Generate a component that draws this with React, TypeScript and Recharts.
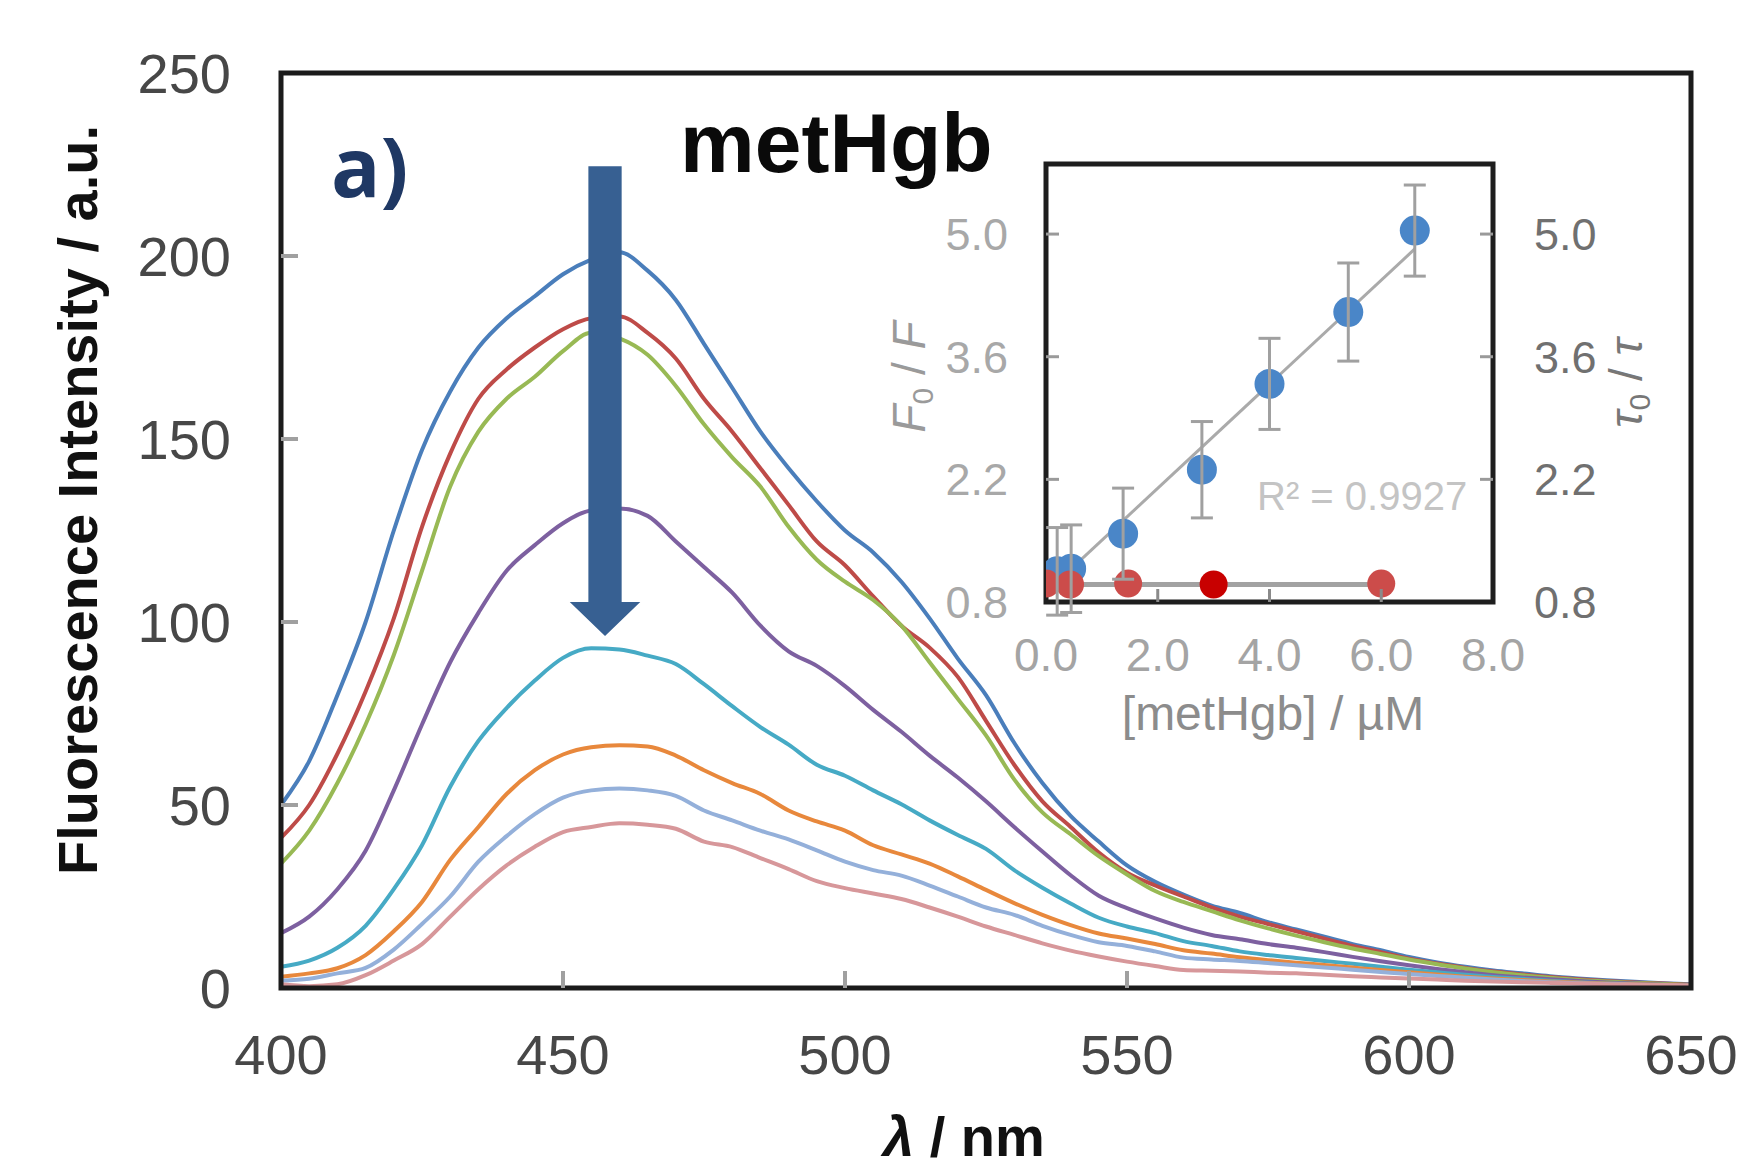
import React from 'react';
import {
  LineChart, Line, XAxis, YAxis, ReferenceArea, ComposedChart, Scatter, ErrorBar, Cell,
} from 'recharts';

// ---------- main spectra ----------
const wavelengths = [400,405,410,415,420,425,430,435,440,445,450,455,460,465,470,475,480,485,490,495,500,505,510,515,520,525,530,535,540,545,550,555,560,565,570,575,580,585,590,595,600,605,610,615,620,625,630,635,640,645,650];
const s1 = [50,62,80,100,125,147,163,175,183,189,195,199,201,196,188,176,164,152,142,133,125,119,111,101,90,80,67,56,47,40,33.5,29,25.5,22.5,20.5,18,16,14,12,10.3,8.5,7,5.8,4.8,4,3.2,2.6,2.1,1.7,1.3,1];
const s2 = [41,50,64,81,101,126,146,161,169,175,180,183,183.5,179,172,161,152,142,132,122,115.5,107,99,93,85,73,61,51,44,37,31.5,28,25,22,19.5,17.5,15.5,13.5,11.5,9.8,8,6.7,5.5,4.5,3.7,3,2.4,1.9,1.5,1.2,0.9];
const s3 = [34,43,56,72,91,114,137,152,161,167,174,179,177.5,173,164.5,154,145,137,126,117,111,106,99,89,79,69,57,48,42,36,31,26.5,23.5,21,18.5,16.3,14.3,12.5,10.8,9.3,7.8,6.5,5.3,4.3,3.5,2.8,2.2,1.8,1.4,1.1,0.8];
const s4 = [15,19.5,27,37.5,54,72,89,102.5,114,121,127,130.5,131,129,122,115,108,99,92,88,82.5,76,70,63.5,57.5,51,44,37.3,30.8,25.2,21.8,19,16.5,14.5,13.3,12,11,9.8,8.5,7.3,6.2,5.2,4.3,3.5,2.9,2.4,1.9,1.5,1.2,0.9,0.7];
const s5 = [5.8,7.5,11,17,27,39,55,67.5,76.5,84,90.2,92.8,92.5,90.8,88.5,83,77,71.3,66.5,61,58,54,50.2,45.8,41.8,38,32.2,27.4,23.1,19.2,16.8,15,12.8,11.5,10,9,8.2,7.4,6.6,5.8,5,4.3,3.6,3,2.5,2,1.6,1.3,1,0.8,0.6];
const s6 = [3.1,4,5.4,9,15.5,23.5,35,44,53,59.5,63.8,65.8,66.3,66,63.5,59.5,56,53,48.5,45.5,43,39,36.5,34,30.5,26.8,23.2,20,17.2,14.9,13.5,12,10.3,9.4,8.4,7.6,6.9,6.3,5.6,4.9,4.3,3.7,3.1,2.6,2.2,1.8,1.5,1.2,1,0.8,0.6];
const s7 = [2,2.5,4,5.5,10.5,17.5,25,34.5,41.5,47.5,52,54,54.5,54,52.5,48.5,45.8,43,40.6,37.6,34.5,32.2,30.7,28,25,22,20,17,14.5,12.5,11.5,10,8.3,7.8,7.4,6.8,6.2,5.6,5,4.4,3.8,3.3,2.8,2.3,1.9,1.6,1.3,1.1,0.9,0.7,0.5];
const s8 = [1,0.5,1,3.5,7.5,12,19.5,27,33.5,38.6,42.6,44,45,44.6,43.5,40,38.5,35.5,32.5,29.2,27.3,25.8,24.3,22,19.5,16.8,14.5,12.2,10.2,8.6,7.2,6,4.9,4.7,4.5,4.2,4,3.6,3.2,2.9,2.6,2.3,2,1.8,1.6,1.4,1.2,1,0.9,0.8,0.7];

const seriesKeys = ['s1','s2','s3','s4','s5','s6','s7','s8'];
const seriesValues = [s1,s2,s3,s4,s5,s6,s7,s8];
const seriesColors = ['#4a7ebb','#be4b48','#98b954','#7d60a0','#46aac5','#e8883c','#94b0da','#d7979a'];

const xTicks = [400,450,500,550,600,650];
const yTicks = [0,50,100,150,200,250];

// arrow annotation extent (data units)
const arrowX = [451.2, 463.7];
const arrowY = [96.2, 224.5];

// ---------- inset ----------
const insetBlueX = [0.2, 0.45, 1.38, 2.79, 4.0, 5.41, 6.6];
const insetBlueY = [1.15, 1.18, 1.58, 2.31, 3.29, 4.11, 5.04];
const insetBlueErr = [0.5, 0.5, 0.52, 0.55, 0.52, 0.56, 0.52];
const insetRedX = [0, 0.43, 1.47, 3.0, 6.0];
const insetRedY = [1.01, 1.0, 1.01, 1.0, 1.01];
const insetRedFill = ['#cc4c4a','#cc4c4a','#cc4c4a','#c80000','#cc4c4a'];
const blueTrendX = [0.2, 6.6];
const blueTrendY = [1.03, 4.83];
const redTrendX = [0, 6.0];
const redTrendY = [1.0, 1.0];
const insetXTicks = [0, 2, 4, 6, 8];
const insetYTicks = [0.8, 2.2, 3.6, 5.0];

const rows = wavelengths.map((nm, i) => {
  const r: any = { nm };
  seriesKeys.forEach((k, j) => { r[k] = seriesValues[j][i]; });
  return r;
});
const blueData = insetBlueX.map((x, i) => ({ x, y: insetBlueY[i], err: insetBlueErr[i] }));
const redData = insetRedX.map((x, i) => ({ x, y: insetRedY[i] }));
const blueTrend = blueTrendX.map((x, i) => ({ x, y: blueTrendY[i] }));
const redTrend = redTrendX.map((x, i) => ({ x, y: redTrendY[i] }));

const FONT = "'Liberation Sans', Arial, sans-serif";

const MainYTick = (props: any) => {
  const { x, y, payload } = props;
  const v = payload.value;
  return (
    <g>
      {v > 0 && v < 250 ? <line x1={x} x2={x + 17} y1={y} y2={y} stroke="#a0a0a0" strokeWidth={4} /> : null}
      <text x={x - 50} y={y + 20} textAnchor="end" fontSize={56} fontFamily={FONT} fill="#474747">{v}</text>
    </g>
  );
};

const MainXTick = (props: any) => {
  const { x, y, payload } = props;
  const v = payload.value;
  return (
    <g>
      {v > 400 && v < 650 ? <line x1={x} x2={x} y1={y} y2={y - 17} stroke="#a0a0a0" strokeWidth={4} /> : null}
      <text x={x} y={y + 86} textAnchor="middle" fontSize={56} fontFamily={FONT} fill="#474747">{v}</text>
    </g>
  );
};

const InsetLeftTick = (props: any) => {
  const { x, y, payload } = props;
  const v = payload.value;
  return (
    <g>
      {v > 0.8 ? <line x1={x} x2={x + 13} y1={y} y2={y} stroke="#9a9a9a" strokeWidth={3} /> : null}
      <text x={x - 38} y={y + 16} textAnchor="end" fontSize={45} fontFamily={FONT} fill="#a8a8a8">{v.toFixed(1)}</text>
    </g>
  );
};

const InsetRightTick = (props: any) => {
  const { x, y, payload } = props;
  const v = payload.value;
  return (
    <g>
      {v > 0.8 ? <line x1={x} x2={x - 13} y1={y} y2={y} stroke="#9a9a9a" strokeWidth={3} /> : null}
      <text x={x + 41} y={y + 16} textAnchor="start" fontSize={45} fontFamily={FONT} fill="#707070">{v.toFixed(1)}</text>
    </g>
  );
};

const InsetXTick = (props: any) => {
  const { x, y, payload } = props;
  const v = payload.value;
  return (
    <g>
      {v > 0 && v < 8 ? <line x1={x} x2={x} y1={y} y2={y - 13} stroke="#8a8a8a" strokeWidth={3} /> : null}
      <text x={x} y={y + 69} textAnchor="middle" fontSize={46} fontFamily={FONT} fill="#a4a4a4">{v.toFixed(1)}</text>
    </g>
  );
};

const ArrowShape = (props: any) => {
  const { x, y, width, height } = props;
  const cx = x + width / 2;
  const sh = width * 0.236;
  const hh = height * 0.072;
  const yb = y + height - hh;
  const pts = [[cx - sh, y], [cx + sh, y], [cx + sh, yb], [x + width, yb], [cx, y + height], [x, yb], [cx - sh, yb]]
    .map((p) => p.join(',')).join(' ');
  return <polygon points={pts} fill="#376092" />;
};

const BlueDot = (props: any) => <circle cx={props.cx} cy={props.cy} r={15} fill="#4a86c8" />;
const RedDot = (props: any) => <circle cx={props.cx} cy={props.cy} r={14} fill={props.fill} />;

export default function App() {
  return (
    <div style={{ position: 'absolute', left: 0, top: 0, width: 1742, height: 1170, background: '#fff', overflow: 'hidden' }}>
      <div style={{ position: 'absolute', left: 0, top: 0 }}>
        <LineChart width={1742} height={1170} data={rows} margin={{ top: 73, right: 51, bottom: 62, left: 0 }}>
          <XAxis type="number" dataKey="nm" domain={[400, 650]} ticks={xTicks} interval={0}
            tickSize={0} tickMargin={0} tickLine={false} axisLine={false} height={120} tick={MainXTick} allowDataOverflow />
          <YAxis type="number" domain={[0, 250]} ticks={yTicks} interval={0} width={281}
            tickSize={0} tickMargin={0} tickLine={false} axisLine={false} tick={MainYTick} allowDataOverflow />
          {seriesKeys.map((k, i) => (
            <Line key={k} type="monotone" dataKey={k} stroke={seriesColors[i]} strokeWidth={4}
              dot={false} isAnimationActive={false} />
          ))}
          <ReferenceArea x1={arrowX[0]} x2={arrowX[1]} y1={arrowY[0]} y2={arrowY[1]}
            shape={ArrowShape} zIndex={1000} />
          <ReferenceArea x1={400} x2={650} y1={0} y2={250} fill="none" stroke="#1b1b1b" strokeWidth={5} zIndex={1100} />
        </LineChart>
      </div>

      <div style={{ position: 'absolute', left: 846, top: 150 }}>
        <ComposedChart width={860} height={600} margin={{ top: 14, right: 0, bottom: 0, left: 0 }}>
          <XAxis type="number" dataKey="x" domain={[0, 8]} ticks={insetXTicks} interval={0}
            tickSize={0} tickMargin={0} tickLine={false} axisLine={false} height={148} tick={InsetXTick} allowDataOverflow />
          <YAxis yAxisId="left" type="number" domain={[0.8, 5.8]} ticks={insetYTicks} interval={0} width={200}
            tickSize={0} tickMargin={0} tickLine={false} axisLine={false} tick={InsetLeftTick} allowDataOverflow />
          <YAxis yAxisId="right" orientation="right" type="number" domain={[0.8, 5.8]} ticks={insetYTicks} interval={0} width={213}
            tickSize={0} tickMargin={0} tickLine={false} axisLine={false} tick={InsetRightTick} allowDataOverflow />
          <ReferenceArea yAxisId="left" x1={0} x2={8} y1={0.8} y2={5.8} fill="#ffffff" fillOpacity={1} stroke="none" zIndex={10} />
          <ReferenceArea yAxisId="left" x1={0} x2={8} y1={0.8} y2={5.8} fill="none" stroke="#1e1e1e" strokeWidth={5} zIndex={20} />
          <Line yAxisId="left" data={blueTrend} dataKey="y" type="linear" stroke="#aaaaaa" strokeWidth={3}
            dot={false} isAnimationActive={false} zIndex={30} />
          <Line yAxisId="left" data={redTrend} dataKey="y" type="linear" stroke="#a2a2a2" strokeWidth={5}
            dot={false} isAnimationActive={false} zIndex={30} />
          <Scatter yAxisId="left" data={blueData} dataKey="y" fill="#4a86c8" shape={BlueDot} isAnimationActive={false} zIndex={40}>
            <ErrorBar dataKey="err" direction="y" width={11} strokeWidth={3} stroke="#a0a0a0" />
          </Scatter>
          <Scatter yAxisId="left" data={redData} dataKey="y" fill="#cc4c4a" shape={RedDot} isAnimationActive={false} zIndex={50}>
            {redData.map((d, i) => <Cell key={i} fill={insetRedFill[i]} />)}
          </Scatter>
        </ComposedChart>
      </div>

      <svg width={1742} height={1170} style={{ position: 'absolute', left: 0, top: 0, pointerEvents: 'none' }}>
        <text transform="translate(97,500) rotate(-90)" textAnchor="middle" fontSize={56} fontWeight="bold"
          fontFamily={FONT} fill="#111">Fluorescence Intensity / a.u.</text>
        <text x={883} y={1156} fontSize={56} fontWeight="bold" fontFamily={FONT} fill="#111">
          <tspan fontStyle="italic">λ</tspan> / nm
        </text>
        <text x={331} y={197} fontSize={82} fontWeight="bold" fontFamily="'Open Sans', sans-serif" fill="#1f3864">a)</text>
        <text x={680} y={172} fontSize={84} fontWeight="bold" fontFamily={FONT} fill="#0a0a0a">metHgb</text>
        <text x={1257} y={510} fontSize={40} fontFamily={FONT} fill="#c4c4c4">R² = 0.9927</text>
        <text x={1273} y={730} textAnchor="middle" fontSize={48} fontFamily={FONT} fill="#8c8c8c">[metHgb] / µM</text>
        <text transform="translate(925,377) rotate(-90)" textAnchor="middle" fontSize={46} fontFamily={FONT} fill="#9a9a9a">
          <tspan fontStyle="italic">F</tspan><tspan fontSize={30} dy={8}>0</tspan><tspan dy={-8}> / </tspan><tspan fontStyle="italic">F</tspan>
        </text>
        <text transform="translate(1642,383) rotate(-90)" textAnchor="middle" fontSize={46} fontFamily={FONT} fill="#777">
          <tspan fontStyle="italic">τ</tspan><tspan fontSize={30} dy={8}>0</tspan><tspan dy={-8}> / </tspan><tspan fontStyle="italic">τ</tspan>
        </text>
      </svg>
    </div>
  );
}
